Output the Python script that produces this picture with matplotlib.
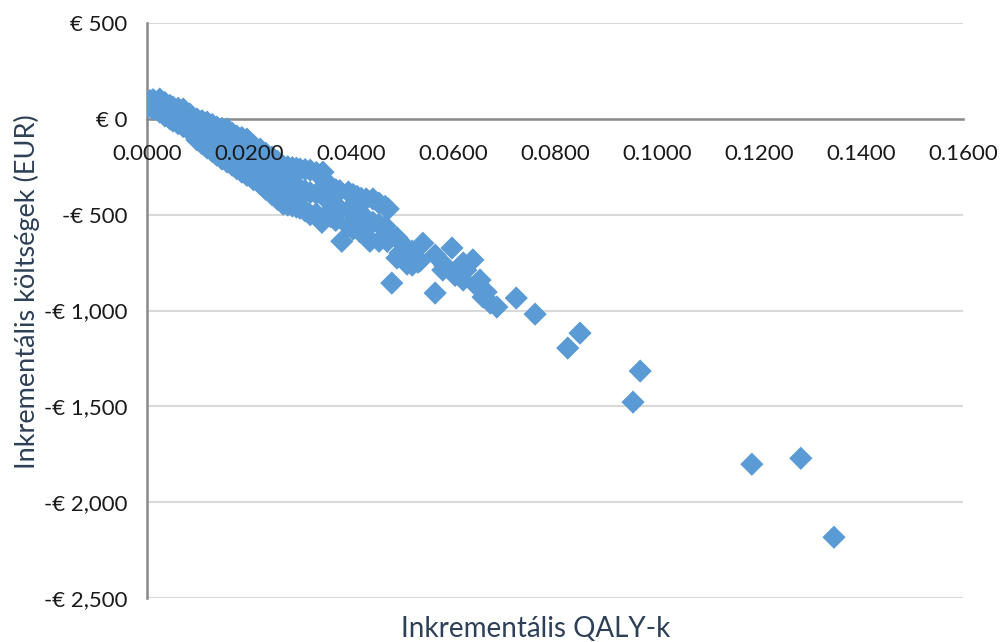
import matplotlib
matplotlib.use("Agg")
import matplotlib.pyplot as plt

plt.rcParams['font.family'] = ['Lato', 'DejaVu Sans']

# incremental QALYs (x) and incremental costs in EUR (y)
qaly = [
    0.0000, 0.0002, 0.0006, 0.0006, 0.0012, 0.0012, 0.0018,
    0.0025, 0.0025, 0.0025, 0.0035, 0.0035, 0.0035, 0.0045, 0.0045, 0.0045,
    0.0051, 0.0051, 0.0051, 0.0061, 0.0061, 0.0061, 0.0071, 0.0071, 0.0071,
    0.0084, 0.0084, 0.0084, 0.0098, 0.0098, 0.0098, 0.0108, 0.0108, 0.0108,
    0.0118, 0.0118, 0.0118, 0.0128, 0.0128, 0.0128, 0.0137, 0.0137, 0.0137,
    0.0147, 0.0147, 0.0147, 0.0157, 0.0157, 0.0157, 0.0167, 0.0167, 0.0167,
    0.0176, 0.0176, 0.0176, 0.0186, 0.0186, 0.0186, 0.0196, 0.0196, 0.0196,
    0.0209, 0.0209, 0.0209, 0.0222, 0.0222, 0.0222, 0.0233, 0.0233, 0.0233,
    0.0245, 0.0245, 0.0245, 0.0256, 0.0256, 0.0256, 0.0267, 0.0267, 0.0267,
    0.0276, 0.0276, 0.0276, 0.0285, 0.0285, 0.0285, 0.0293, 0.0293, 0.0293,
    0.0300, 0.0300, 0.0300, 0.0310, 0.0310, 0.0310, 0.0320, 0.0320, 0.0320,
    0.0332, 0.0332, 0.0332, 0.0345, 0.0343, 0.0352, 0.0352, 0.0352,
    0.0360, 0.0360, 0.0360, 0.0370, 0.0370, 0.0370, 0.0378, 0.0378, 0.0382,
    0.0395, 0.0395, 0.0395, 0.0404, 0.0404, 0.0404, 0.0412, 0.0412, 0.0418,
    0.0420, 0.0420, 0.0430, 0.0430, 0.0430, 0.0437, 0.0443, 0.0443,
    0.0455, 0.0455, 0.0455, 0.0467, 0.0467, 0.0471, 0.0473, 0.0473, 0.0480,
    0.0490, 0.0490, 0.0496, 0.0496, 0.0506, 0.0510, 0.0520, 0.0520, 0.0531,
    0.0535, 0.0541, 0.0565, 0.0565, 0.0580, 0.0584, 0.0598, 0.0604, 0.0620,
    0.0620, 0.0625, 0.0639, 0.0645, 0.0653, 0.0659, 0.0665, 0.0673, 0.0686,
    0.0724, 0.0761, 0.0825, 0.0849, 0.0953, 0.0967, 0.1186, 0.1282, 0.1347,
]
cost = [
    87, 60, 95, 70, 100, 51, 80,
    103, 65, 35, 85, 40, 15, 70, 30, 0,
    61, 25, -11, 55, 10, -25, 51, 5, -40,
    25, -20, -64, -1, -55, -110, -10, -75, -130,
    -17, -85, -152, -30, -100, -170, -43, -115, -190,
    -50, -130, -210, -53, -140, -225, -75, -160, -242,
    -90, -175, -260, -98, -190, -278, -106, -200, -295,
    -140, -230, -318, -158, -250, -340, -180, -270, -368,
    -200, -300, -395, -222, -320, -420, -246, -340, -445,
    -250, -350, -450, -255, -355, -455, -258, -360, -460,
    -262, -365, -466, -265, -375, -480, -268, -385, -500,
    -280, -390, -495, -278, -540, -330, -420, -500,
    -366, -440, -510, -370, -450, -530, -375, -470, -639,
    -382, -475, -560, -395, -490, -575, -405, -500, -590,
    -415, -510, -418, -520, -615, -639, -418, -540,
    -440, -550, -639, -457, -560, -639, -470, -600, -857,
    -620, -726, -640, -700, -727, -758, -690, -763, -748,
    -742, -649, -711, -909, -789, -765, -674, -817, -752,
    -841, -789, -736, -868, -841, -930, -904, -961, -982,
    -935, -1019, -1196, -1118, -1478, -1316, -1802, -1771, -2183,
]

x_ticks = [0.0, 0.02, 0.04, 0.06, 0.08, 0.10, 0.12, 0.14, 0.16]
x_labels = ['0.0000', '0.0200', '0.0400', '0.0600', '0.0800',
            '0.1000', '0.1200', '0.1400', '0.1600']
y_ticks = [500, 0, -500, -1000, -1500, -2000, -2500]
y_labels = ['€ 500', '€ 0', '-€ 500', '-€ 1,000', '-€ 1,500',
            '-€ 2,000', '-€ 2,500']

W, H = 1001, 642
fig = plt.figure(figsize=(W / 100, H / 100), dpi=100)
ax = fig.add_axes([147 / W, 44 / H, 816 / W, 575 / H])

for v in y_ticks:
    if v != 0:
        ax.axhline(v, color='#d9d9d9', lw=1.5, zorder=0.5)

ax.scatter(qaly, cost, marker='D', s=140, color='#5b9bd5',
           edgecolors='none', zorder=2)

ax.set_xlim(0, 0.16)
ax.set_ylim(-2500, 500)

for side in ['top', 'right']:
    ax.spines[side].set_visible(False)
ax.spines['bottom'].set_position(('data', 0))
for side in ['bottom', 'left']:
    ax.spines[side].set_color('#888888')
    ax.spines[side].set_linewidth(1.8)
    ax.spines[side].set_zorder(0.6)

ax.set_xticks(x_ticks)
ax.set_xticklabels(x_labels)
ax.set_yticks(y_ticks)
ax.set_yticklabels(y_labels)
ax.tick_params(axis='x', length=0, pad=18, labelsize=16, labelcolor='#1a1a1a')
ax.tick_params(axis='y', length=0, pad=14, labelsize=16, labelcolor='#1a1a1a')
ax.xaxis.set_zorder(3)
ax.yaxis.set_zorder(3)

fig.text(536 / W, 5 / H, 'Inkrementális QALY-k', ha='center',
         va='baseline', fontsize=20, color='#2e4057')
fig.text(27 / W, 1 - 292 / H, 'Inkrementális költségek (EUR)', ha='center',
         va='center', rotation=90, fontsize=19.5, color='#2e4057')

fig.savefig('out.png', dpi=100)
